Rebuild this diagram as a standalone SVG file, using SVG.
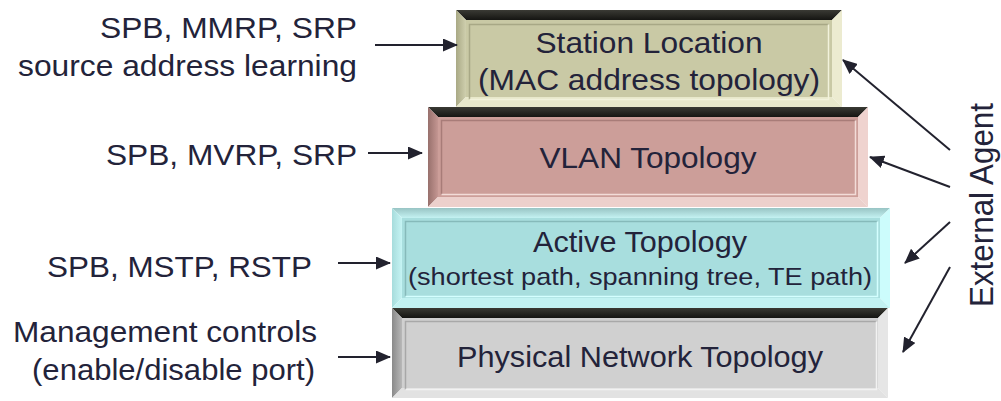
<svg xmlns="http://www.w3.org/2000/svg" width="1001" height="401" viewBox="0 0 1001 401">
  <style>
    text { font-family: "Liberation Sans", Arial, sans-serif; fill: #23233a; }
    .lbl { font-size: 29px; }
    .sub { font-size: 24px; }
    .ext { font-size: 31px; }
    .conn line { stroke: #22222e; stroke-width: 2; fill: none; }
    .engr { fill: none; stroke-width: 1.5; }
  </style>
  <defs>
    <marker id="arrow" markerUnits="userSpaceOnUse" markerWidth="15" markerHeight="13" refX="14" refY="6.5" orient="auto">
      <path d="M0,0 L15,6.5 L0,13 z" fill="#22222e"/>
    </marker>
    <linearGradient id="leftKhaki" x1="0" y1="0" x2="1" y2="0">
      <stop offset="0" stop-color="#a9a985"/>
      <stop offset="1" stop-color="#cfcfae"/>
    </linearGradient>
    <linearGradient id="leftRose" x1="0" y1="0" x2="1" y2="0">
      <stop offset="0" stop-color="#98706c"/>
      <stop offset="1" stop-color="#c49692"/>
    </linearGradient>
    <linearGradient id="leftCyan" x1="0" y1="0" x2="1" y2="0">
      <stop offset="0" stop-color="#a6dcdc"/>
      <stop offset="1" stop-color="#c6f4f4"/>
    </linearGradient>
    <linearGradient id="topCyan" x1="0" y1="0" x2="0" y2="1">
      <stop offset="0" stop-color="#98c4c4"/>
      <stop offset="1" stop-color="#c4f2f2"/>
    </linearGradient>
    <linearGradient id="leftGray" x1="0" y1="0" x2="1" y2="0">
      <stop offset="0" stop-color="#8a8a8a"/>
      <stop offset="1" stop-color="#b8b8b8"/>
    </linearGradient>
    <linearGradient id="topDark" x1="0" y1="0" x2="0" y2="1">
      <stop offset="0" stop-color="#3a3a34"/>
      <stop offset="1" stop-color="#151512"/>
    </linearGradient>
  </defs>

  <!-- Physical Network Topology layer -->
  <g id="layer-physical">
    <rect x="402" y="318" width="476" height="70" fill="#d0d0d0"/>
    <polygon points="392,308 888,308 878,318 402,318" fill="url(#topDark)"/>
    <polygon points="392,308 402,318 402,388 392,398" fill="url(#leftGray)"/>
    <polygon points="888,308 888,398 878,388 878,318" fill="#e6e6e6"/>
    <polygon points="392,398 402,388 878,388 888,398" fill="#e2e2e2"/>
    <polyline class="engr" points="405.5,389.5 405.5,321.5 876.5,321.5" stroke="#a8a8a8"/>
    <polyline class="engr" points="876.5,321.5 876.5,389.5 405.5,389.5" stroke="#f2f2f2"/>
    <text class="lbl" transform="translate(640,367) scale(1.09,1)" text-anchor="middle" textLength="335.8" lengthAdjust="spacingAndGlyphs">Physical Network Topology</text>
  </g>

  <!-- Active Topology layer -->
  <g id="layer-active">
    <rect x="402" y="218" width="478" height="80" fill="#a8dede"/>
    <polygon points="392,208 890,208 880,218 402,218" fill="url(#topCyan)"/>
    <polygon points="392,208 402,218 402,298 392,308" fill="url(#leftCyan)"/>
    <polygon points="890,208 890,308 880,298 880,218" fill="#ccfcfc"/>
    <polygon points="392,308 402,298 880,298 890,308" fill="#c2f2f2"/>
    <polyline class="engr" points="405.5,296.5 405.5,221.5 877.5,221.5" stroke="#86baba"/>
    <polyline class="engr" points="877.5,221.5 877.5,296.5 405.5,296.5" stroke="#d4ffff"/>
    <text class="lbl" transform="translate(640,252) scale(1.09,1)" text-anchor="middle" textLength="196.3" lengthAdjust="spacingAndGlyphs">Active Topology</text>
    <text class="sub" transform="translate(640,285) scale(1.09,1)" text-anchor="middle" textLength="425.7" lengthAdjust="spacingAndGlyphs">(shortest path, spanning tree, TE path)</text>
  </g>

  <!-- VLAN Topology layer -->
  <g id="layer-vlan">
    <rect x="438" y="117" width="420" height="80" fill="#cc9e99"/>
    <polygon points="428,107 868,107 858,117 438,117" fill="url(#topDark)"/>
    <polygon points="428,107 438,117 438,197 428,207" fill="url(#leftRose)"/>
    <polygon points="868,107 868,207 858,197 858,117" fill="#efd3cf"/>
    <polygon points="428,207 438,197 858,197 868,207" fill="#ecd0cc"/>
    <polyline class="engr" points="441.5,194.5 441.5,120.5 855.5,120.5" stroke="#a87c78"/>
    <polyline class="engr" points="855.5,120.5 855.5,194.5 441.5,194.5" stroke="#f2dcd8"/>
    <text class="lbl" transform="translate(648,168) scale(1.09,1)" text-anchor="middle" textLength="199.1" lengthAdjust="spacingAndGlyphs">VLAN Topology</text>
  </g>

  <!-- Station Location layer -->
  <g id="layer-station">
    <rect x="466" y="20" width="366" height="77" fill="#c9c9a5"/>
    <polygon points="456,10 842,10 832,20 466,20" fill="url(#topDark)"/>
    <polygon points="456,10 466,20 466,97 456,107" fill="url(#leftKhaki)"/>
    <polygon points="842,10 842,107 832,97 832,20" fill="#ecebd0"/>
    <polygon points="456,107 466,97 832,97 842,107" fill="#e8e8cb"/>
    <polyline class="engr" points="469.5,99.5 469.5,24.5 828.5,24.5" stroke="#a8a886"/>
    <polyline class="engr" points="828.5,24.5 828.5,99.5 469.5,99.5" stroke="#f2f2dc"/>
    <text class="lbl" transform="translate(649,53) scale(1.09,1)" text-anchor="middle" textLength="208.3" lengthAdjust="spacingAndGlyphs">Station Location</text>
    <text class="lbl" transform="translate(649,90) scale(1.09,1)" text-anchor="middle" textLength="313.8" lengthAdjust="spacingAndGlyphs">(MAC address topology)</text>
  </g>

  <!-- Protocol labels on the left -->
  <g id="label-station">
    <text class="lbl" transform="translate(357,38) scale(1.09,1)" text-anchor="end" textLength="235.8" lengthAdjust="spacingAndGlyphs">SPB, MMRP, SRP</text>
    <text class="lbl" transform="translate(357,76) scale(1.09,1)" text-anchor="end" textLength="311" lengthAdjust="spacingAndGlyphs">source address learning</text>
  </g>
  <g id="label-vlan">
    <text class="lbl" transform="translate(357,165) scale(1.09,1)" text-anchor="end" textLength="230.3" lengthAdjust="spacingAndGlyphs">SPB, MVRP, SRP</text>
  </g>
  <g id="label-active">
    <text class="lbl" transform="translate(312,277) scale(1.09,1)" text-anchor="end" textLength="243.1" lengthAdjust="spacingAndGlyphs">SPB, MSTP, RSTP</text>
  </g>
  <g id="label-physical">
    <text class="lbl" transform="translate(317,342) scale(1.09,1)" text-anchor="end" textLength="278.9" lengthAdjust="spacingAndGlyphs">Management controls</text>
    <text class="lbl" transform="translate(315,380) scale(1.09,1)" text-anchor="end" textLength="259.6" lengthAdjust="spacingAndGlyphs">(enable/disable port)</text>
  </g>

  <!-- External agent label -->
  <g id="external-agent">
    <text class="ext" transform="translate(993,205) scale(1.09,1) rotate(-90)" text-anchor="middle" textLength="204" lengthAdjust="spacingAndGlyphs">External Agent</text>
  </g>

  <!-- Connectors -->
  <g id="connectors" class="conn">
    <line x1="375" y1="45" x2="457" y2="45" marker-end="url(#arrow)"/>
    <line x1="368" y1="153" x2="422" y2="153" marker-end="url(#arrow)"/>
    <line x1="338" y1="263" x2="390" y2="263" marker-end="url(#arrow)"/>
    <line x1="338" y1="357" x2="390" y2="357" marker-end="url(#arrow)"/>
    <line x1="950" y1="150" x2="843" y2="60" marker-end="url(#arrow)"/>
    <line x1="950" y1="187" x2="870" y2="157" marker-end="url(#arrow)"/>
    <line x1="950" y1="222" x2="905" y2="263" marker-end="url(#arrow)"/>
    <line x1="950" y1="267" x2="903" y2="352" marker-end="url(#arrow)"/>
  </g>
</svg>
